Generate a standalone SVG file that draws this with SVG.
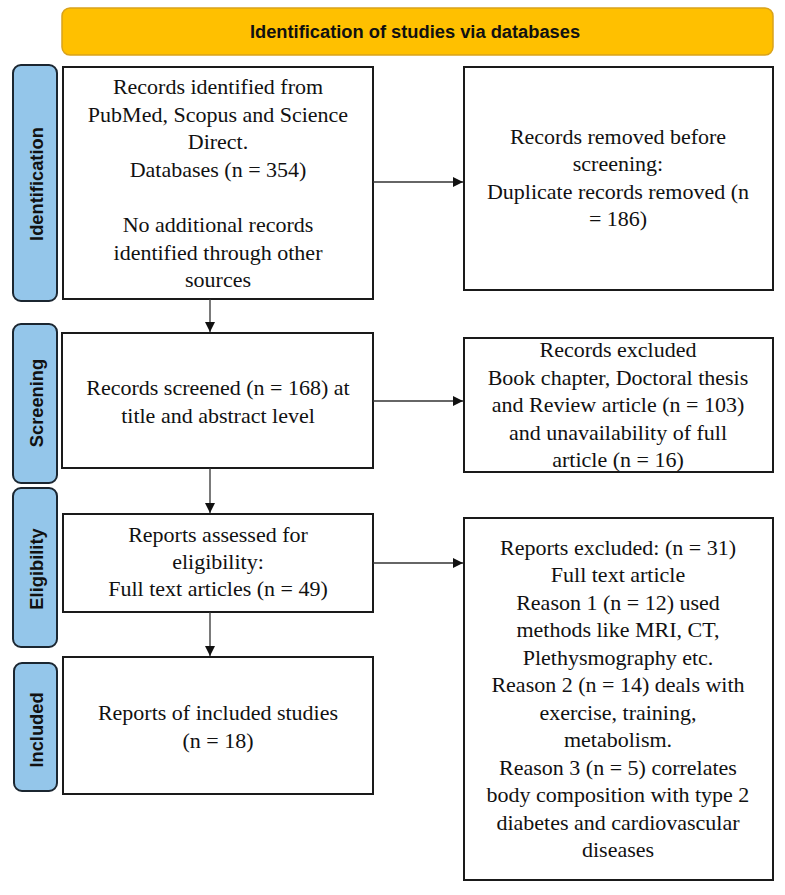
<svg xmlns="http://www.w3.org/2000/svg" width="785" height="895" viewBox="0 0 785 895">
<style>
.box{fill:#fff;stroke:#1a1a1a;stroke-width:2}
.side{fill:#94c6ea;stroke:#1b2630;stroke-width:2}
.t{font-family:"Liberation Serif","Times New Roman",serif;font-size:22px;fill:#111;text-anchor:middle}
.s{font-family:"Liberation Sans",Arial,sans-serif;font-size:18.3px;font-weight:bold;fill:#111;text-anchor:middle}
.c{stroke:#333;stroke-width:1.3;fill:none}
</style>
<defs>
<marker id="arr" viewBox="0 0 10 10" refX="10" refY="5" markerWidth="10" markerHeight="10" markerUnits="userSpaceOnUse" orient="auto">
<path d="M0,0 L10,5 L0,10 z" fill="#111"/>
</marker>
</defs>
<rect width="785" height="895" fill="#fff"/>
<g id="banner">
<rect x="62" y="8" width="711" height="47" rx="8" fill="#ffc000" stroke="#d9a21b" stroke-width="1.5"/>
<text class="s" x="415" y="38">Identification of studies via databases</text>
</g>
<g id="lbl-identification">
<rect class="side" x="13" y="65" width="44" height="236" rx="8"/>
<text class="s" transform="translate(43,184) rotate(-90)">Identification</text>
</g>
<g id="lbl-screening">
<rect class="side" x="13" y="324" width="44" height="159" rx="8"/>
<text class="s" transform="translate(43,403) rotate(-90)">Screening</text>
</g>
<g id="lbl-eligibility">
<rect class="side" x="13" y="488" width="44" height="159" rx="8"/>
<text class="s" transform="translate(43,569) rotate(-90)">Eligibility</text>
</g>
<g id="lbl-included">
<rect class="side" x="14" y="663" width="43" height="128" rx="8"/>
<text class="s" transform="translate(43,730) rotate(-90)">Included</text>
</g>
<g id="identified">
<rect class="box" x="63" y="67" width="310" height="232"/>
<text class="t" x="218" y="94">Records identified from</text>
<text class="t" x="218" y="122">PubMed, Scopus and Science</text>
<text class="t" x="218" y="149">Direct.</text>
<text class="t" x="218" y="177">Databases (n = 354)</text>
<text class="t" x="218" y="232">No additional records</text>
<text class="t" x="218" y="260">identified through other</text>
<text class="t" x="218" y="287">sources</text>
</g>
<g id="removed">
<rect class="box" x="464" y="67" width="309" height="223"/>
<text class="t" x="618" y="144">Records removed before</text>
<text class="t" x="618" y="171">screening:</text>
<text class="t" x="618" y="199">Duplicate records removed (n</text>
<text class="t" x="618" y="226">= 186)</text>
</g>
<g id="screened">
<rect class="box" x="62" y="333" width="311" height="135"/>
<text class="t" x="218" y="395">Records screened (n = 168) at</text>
<text class="t" x="218" y="423">title and abstract level</text>
</g>
<g id="excluded">
<rect class="box" x="464" y="338" width="309" height="134"/>
<text class="t" x="618" y="357">Records excluded</text>
<text class="t" x="618" y="385">Book chapter, Doctoral thesis</text>
<text class="t" x="618" y="412">and Review article (n = 103)</text>
<text class="t" x="618" y="440">and unavailability of full</text>
<text class="t" x="618" y="467">article (n = 16)</text>
</g>
<g id="assessed">
<rect class="box" x="63" y="514" width="310" height="98"/>
<text class="t" x="218" y="542">Reports assessed for</text>
<text class="t" x="218" y="569">eligibility:</text>
<text class="t" x="218" y="596">Full text articles (n = 49)</text>
</g>
<g id="reports-excluded">
<rect class="box" x="464" y="518" width="309" height="362"/>
<text class="t" x="618" y="555">Reports excluded: (n = 31)</text>
<text class="t" x="618" y="582">Full text article</text>
<text class="t" x="618" y="610">Reason 1 (n = 12) used</text>
<text class="t" x="618" y="637">methods like MRI, CT,</text>
<text class="t" x="618" y="665">Plethysmography etc.</text>
<text class="t" x="618" y="692">Reason 2 (n = 14) deals with</text>
<text class="t" x="618" y="720">exercise, training,</text>
<text class="t" x="618" y="747">metabolism.</text>
<text class="t" x="618" y="775">Reason 3 (n = 5) correlates</text>
<text class="t" x="618" y="802">body composition with type 2</text>
<text class="t" x="618" y="830">diabetes and cardiovascular</text>
<text class="t" x="618" y="857">diseases</text>
</g>
<g id="included">
<rect class="box" x="63" y="657" width="310" height="137"/>
<text class="t" x="218" y="720">Reports of included studies</text>
<text class="t" x="218" y="748">(n = 18)</text>
</g>
<g id="connectors">
<line class="c" x1="373" y1="182" x2="463" y2="182" marker-end="url(#arr)"/>
<line class="c" x1="210" y1="299" x2="210" y2="332" marker-end="url(#arr)"/>
<line class="c" x1="373" y1="401" x2="463" y2="401" marker-end="url(#arr)"/>
<line class="c" x1="210" y1="468" x2="210" y2="513" marker-end="url(#arr)"/>
<line class="c" x1="373" y1="563" x2="463" y2="563" marker-end="url(#arr)"/>
<line class="c" x1="210" y1="612" x2="210" y2="656" marker-end="url(#arr)"/>
</g>
</svg>
